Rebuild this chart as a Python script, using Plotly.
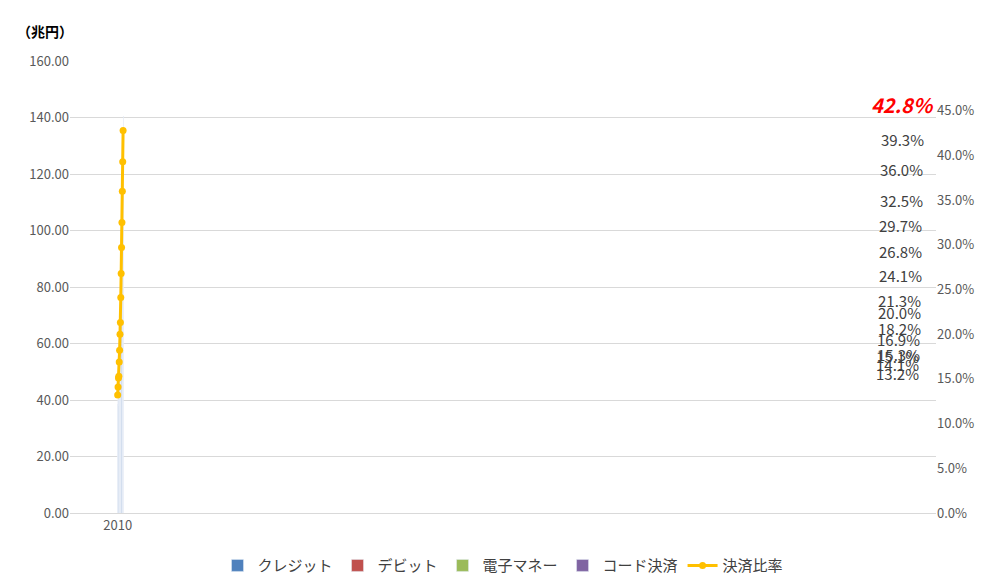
import plotly.graph_objects as go

years = [str(y) for y in range(2010, 2025)]
credit = [36.6, 38.0, 40.8, 41.9, 46.3, 49.8, 53.9, 58.4, 66.7, 73.3, 74.1, 81.0, 93.8, 105.7, 116.9]
debit = [0.4, 0.4, 0.4, 0.4, 0.4, 0.4, 0.9, 1.0, 1.2, 1.7, 2.2, 2.5, 3.2, 3.6, 4.3]
emoney = [1.6, 2.0, 2.5, 3.0, 4.0, 4.6, 5.1, 5.2, 5.5, 5.8, 6.0, 6.0, 6.1, 6.4, 6.0]
code = [0, 0, 0, 0, 0, 0, 0, 0, 0.2, 0.9, 3.2, 5.3, 7.9, 10.9, 13.5]
ratio = [13.2, 14.1, 15.1, 15.3, 16.9, 18.2, 20.0, 21.3, 24.1, 26.8, 29.7, 32.5, 36.0, 39.3, 42.8]

font = "Noto Sans CJK JP"
fig = go.Figure()
for name, vals, col in [("クレジット", credit, "#4F81BD"), ("デビット", debit, "#C0504D"),
                        ("電子マネー", emoney, "#9BBB59"), ("コード決済", code, "#8064A2")]:
    fig.add_bar(x=years, y=vals, name=name, marker_color=col)
fig.add_scatter(x=years, y=[r / 100 for r in ratio], name="決済比率", yaxis="y2",
                mode="lines+markers", line=dict(color="#FFC000", width=3),
                marker=dict(size=7, color="#FFC000"))
for i, (yr, r) in enumerate(zip(years, ratio)):
    last = i == len(years) - 1
    fig.add_annotation(x=yr, y=r / 100, yref="y2", text=f"{r:.1f}%", showarrow=False,
                       yshift=26 if last else 22,
                       font=dict(size=20 if last else 15, color="red" if last else "#404040",
                                 family=font, weight="bold" if last else "normal",
                                 style="italic" if last else "normal"))
fig.add_annotation(x=0, y=1, xref="paper", yref="paper", text="（兆円）", showarrow=False,
                   xanchor="right", yanchor="bottom", xshift=5, yshift=18,
                   font=dict(size=14, family=font, color="#000", weight="bold"))
fig.update_layout(
    width=990, height=586, barmode="stack", bargap=0.55,
    margin=dict(l=62, r=62, t=53, b=70),
    plot_bgcolor="white", paper_bgcolor="white",
    font=dict(family=font, size=13, color="#595959"),
    xaxis=dict(type="category", showline=True, linecolor="#D9D9D9"),
    yaxis=dict(range=[0, 160], dtick=20, tickformat=".2f", gridcolor="#D9D9D9", zeroline=False),
    yaxis2=dict(overlaying="y", side="right", range=[0, 0.5057], tickvals=[i * 0.05 for i in range(10)],
                tickformat=".1%", showgrid=False, zeroline=False),
    legend=dict(orientation="h", traceorder="normal", x=0.5, xanchor="center", y=-0.08, yanchor="top",
                font=dict(size=15, color="#404040")),
)
fig.write_html("out.html")
